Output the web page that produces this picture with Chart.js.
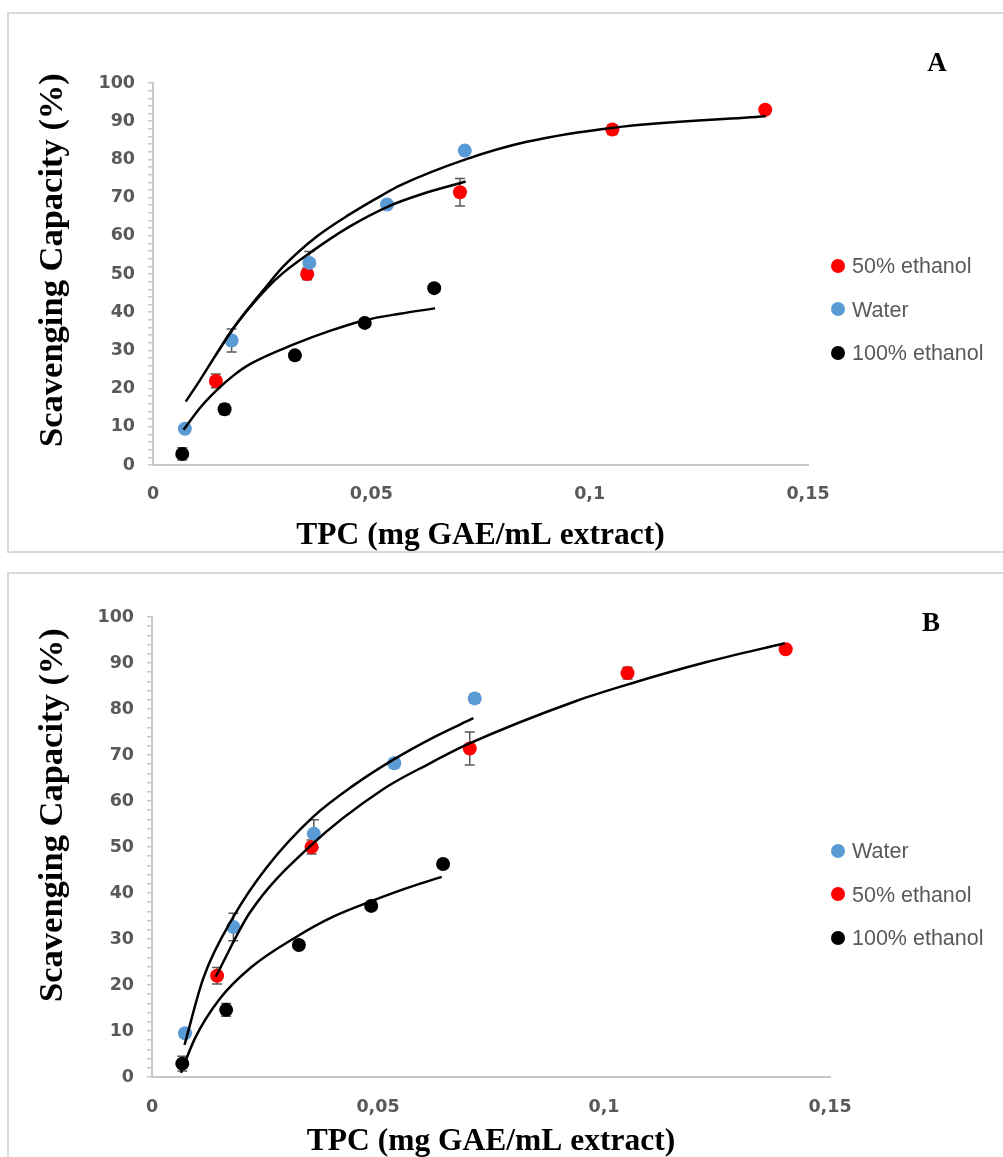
<!DOCTYPE html>
<html>
<head>
<meta charset="utf-8">
<title>Scavenging capacity vs TPC</title>
<script src="https://cdn.jsdelivr.net/npm/chart.js@4.4.1/dist/chart.umd.min.js"></script>
<style>
  html, body { margin: 0; padding: 0; background: #fff; }
  body { position: relative; width: 1003px; height: 1157px; overflow: hidden; }
  .frame { position: absolute; border: 2px solid #d9d9d9; box-sizing: border-box; }
  canvas { position: absolute; left: 0; }
  .ytitle {
    position: absolute; white-space: nowrap; color: #000;
    font: bold 34.5px 'Liberation Serif', 'Times New Roman', serif;
    transform: translate(-50%, -50%) rotate(-90deg);
  }
  .letter {
    position: absolute; color: #000;
    font: bold 27px 'Liberation Serif', 'Times New Roman', serif;
    transform: translate(-50%, -50%);
  }
  .legend-item {
    position: absolute; left: 831px; height: 26px; line-height: 26px;
    font: 21.5px 'Liberation Sans', Arial, sans-serif; color: #595959; white-space: nowrap;
    transform: translateY(-50%);
  }
  .legend-item i {
    display: inline-block; width: 14px; height: 14px; border-radius: 50%;
    vertical-align: middle; margin-right: 7px; margin-top: -3px;
  }
</style>
</head>
<body>
<div class="frame" style="left:7px; top:12px; width:1010px; height:541px;"></div>
<div class="frame" style="left:7px; top:572px; width:1010px; height:600px;"></div>

<canvas id="panelA" width="1003" height="560" style="top:0px;"></canvas>
<canvas id="panelB" width="1003" height="597" style="top:560px;"></canvas>

<div class="ytitle" style="left:50px; top:260px;">Scavenging Capacity (%)</div>
<div class="ytitle" style="left:50px; top:815px;">Scavenging Capacity (%)</div>
<div class="letter" style="left:937px; top:62px;">A</div>
<div class="letter" style="left:931px; top:622px;">B</div>

<script>
// Series names and marker colours
const seriesNames = ['Water', '50% ethanol', '100% ethanol'];
const seriesColors = ['#5b9bd5', '#ff0000', '#000000'];

// Measured points: TPC (mg GAE/mL extract), scavenging capacity (%), SD
const tpcWater = [0.0073, 0.0180, 0.0358, 0.0536, 0.0714];
const scWater  = [9.5, 32.6, 52.9, 68.2, 82.3];
const sdWater  = [0.8, 3.0, 3.0, 1.0, 1.0];

const tpcEth50 = [0.0144, 0.0353, 0.0703, 0.1052, 0.1402];
const scEth50  = [22.0, 50.0, 71.4, 87.8, 93.0];
const sdEth50  = [1.8, 1.5, 3.6, 1.3, 0.8];

const tpcEth100 = [0.0067, 0.0164, 0.0325, 0.0485, 0.0644];
const scEth100  = [2.9, 14.6, 28.7, 37.2, 46.3];
const sdEth100  = [1.6, 1.4, 0.8, 1.0, 0.8];

// Panel A trendlines
const fitAWaterX = [0.0075, 0.0108, 0.0146, 0.0184, 0.0222, 0.0260, 0.0298, 0.0360, 0.0450, 0.0537, 0.0618, 0.0716];
const fitAWaterY = [16.6, 22.3, 29.2, 35.8, 41.3, 46.2, 50.3, 55.6, 62.4, 67.6, 71.0, 74.2];
const fitAEth50X = [0.0145, 0.0184, 0.0222, 0.0260, 0.0298, 0.0375, 0.0450, 0.0527, 0.0566, 0.0716, 0.0856, 0.1055, 0.1403];
const fitAEth50Y = [29.0, 35.8, 41.5, 46.8, 51.9, 59.8, 65.6, 70.8, 73.2, 80.0, 84.6, 88.3, 91.3];
const fitAEth100X = [0.0070, 0.0108, 0.0146, 0.0184, 0.0222, 0.0325, 0.0405, 0.0485, 0.0565, 0.0646];
const fitAEth100Y = [9.2, 15.0, 19.6, 23.4, 26.4, 31.7, 35.1, 37.9, 39.6, 41.0];

// Panel B trendlines
const fitBWaterX = [0.0072, 0.0114, 0.0180, 0.0254, 0.0357, 0.0446, 0.0534, 0.0622, 0.0711];
const fitBWaterY = [7.0, 21.6, 34.8, 45.6, 56.6, 63.4, 69.0, 73.8, 78.0];
const fitBEth50X = [0.0141, 0.0217, 0.0350, 0.0512, 0.0615, 0.0700, 0.0940, 0.1058, 0.1227, 0.1400];
const fitBEth50Y = [21.8, 35.8, 50.2, 62.6, 68.2, 72.4, 81.8, 85.5, 90.2, 94.3];
const fitBEth100X = [0.0064, 0.0095, 0.0150, 0.0220, 0.0320, 0.0402, 0.0482, 0.0562, 0.0641];
const fitBEth100Y = [0.9, 8.4, 17.0, 23.9, 30.5, 34.9, 38.1, 41.0, 43.5];

// Axis settings
const xMin = 0, xMax = 0.15, xStep = 0.05;
const yMin = 0, yMax = 100, yStep = 2, yLabelStep = 10;
const xTitle = 'TPC (mg GAE/mL extract)';

const pts = (xs, ys) => xs.map((x, i) => ({ x, y: ys[i] }));

// Vertical SD bars with caps, drawn beneath the markers
const errorBars = {
  id: 'errorBars',
  beforeDatasetsDraw(chart) {
    const { ctx, scales: { x, y } } = chart;
    ctx.save();
    ctx.strokeStyle = '#595959';
    ctx.lineWidth = 1.5;
    chart.data.datasets.forEach(ds => {
      if (!ds.errors) return;
      ds.data.forEach((p, j) => {
        const e = ds.errors[j];
        const px = x.getPixelForValue(p.x);
        const top = y.getPixelForValue(p.y + e);
        const bot = y.getPixelForValue(p.y - e);
        ctx.beginPath();
        ctx.moveTo(px, top); ctx.lineTo(px, bot);
        ctx.moveTo(px - 5, top); ctx.lineTo(px + 5, top);
        ctx.moveTo(px - 5, bot); ctx.lineTo(px + 5, bot);
        ctx.stroke();
      });
    });
    ctx.restore();
  }
};

function pointSet(idx, xs, ys, sd) {
  return {
    label: seriesNames[idx],
    data: pts(xs, ys),
    errors: sd,
    showLine: false,
    pointRadius: 7,
    pointHoverRadius: 7,
    pointBackgroundColor: seriesColors[idx],
    pointBorderColor: seriesColors[idx],
    pointBorderWidth: 0,
    order: 2
  };
}

function fitSet(xs, ys) {
  return {
    data: pts(xs, ys),
    showLine: true,
    borderColor: '#000',
    borderWidth: 2.5,
    pointRadius: 0,
    fill: false,
    cubicInterpolationMode: 'monotone',
    order: 1
  };
}

const tickFont = { family: "'DejaVu Sans', sans-serif", size: 17.5, weight: 'bold' };

function makePanel(id, fits, area) {
  const datasets = [
    fitSet(fits[0][0], fits[0][1]),
    fitSet(fits[1][0], fits[1][1]),
    fitSet(fits[2][0], fits[2][1]),
    pointSet(0, tpcWater, scWater, sdWater),
    pointSet(1, tpcEth50, scEth50, sdEth50),
    pointSet(2, tpcEth100, scEth100, sdEth100)
  ];
  return new Chart(document.getElementById(id), {
    type: 'scatter',
    data: { datasets },
    plugins: [errorBars],
    options: {
      responsive: false,
      animation: false,
      events: [],
      layout: { padding: area.padding },
      plugins: { legend: { display: false }, tooltip: { enabled: false } },
      scales: {
        x: {
          type: 'linear', min: xMin, max: xMax,
          afterFit: s => { s.height = area.xHeight; },
          ticks: {
            stepSize: xStep, color: '#595959', font: tickFont, padding: area.xPad,
            callback: v => Number(v.toFixed(4)).toString().replace('.', ',')
          },
          grid: { display: true, drawOnChartArea: false, drawTicks: false, color: '#bfbfbf' },
          border: { display: true, color: '#c8c8c8', width: 2 },
          title: {
            display: true, text: xTitle, color: '#000',
            font: { family: "'Liberation Serif', 'Times New Roman', serif", size: 31.5, weight: 'bold' },
            padding: { top: 0, bottom: area.titlePad }
          }
        },
        y: {
          type: 'linear', min: yMin, max: yMax,
          afterFit: s => { s.width = area.yWidth; },
          ticks: {
            stepSize: yStep, autoSkip: false, color: '#595959', font: tickFont, padding: 13,
            callback: v => (v % yLabelStep === 0 ? String(v) : '')
          },
          grid: { display: true, drawOnChartArea: false, drawTicks: true, tickLength: 5, color: '#c8c8c8', lineWidth: 1.5 },
          border: { display: true, color: '#c8c8c8', width: 2 }
        }
      }
    }
  });
}

makePanel('panelA',
  [[fitAWaterX, fitAWaterY], [fitAEth50X, fitAEth50Y], [fitAEth100X, fitAEth100Y]],
  { padding: { top: 83, right: 195, left: 0, bottom: 0 }, yWidth: 153, xHeight: 95, xPad: 19, titlePad: 5 });

makePanel('panelB',
  [[fitBWaterX, fitBWaterY], [fitBEth50X, fitBEth50Y], [fitBEth100X, fitBEth100Y]],
  { padding: { top: 57, right: 173, left: 0, bottom: 0 }, yWidth: 152, xHeight: 80, xPad: 20, titlePad: -4 });

// Legends: panel A lists 50% ethanol first, panel B lists water first
const legendA = [1, 0, 2];
const legendB = [0, 1, 2];
const legendRowsA = 267, legendRowsB = 852, legendGap = 43.5;
function addLegend(order, firstRow) {
  order.forEach((idx, k) => {
    const el = document.createElement('div');
    el.className = 'legend-item';
    el.style.top = (firstRow + k * legendGap) + 'px';
    const dot = document.createElement('i');
    dot.style.background = seriesColors[idx];
    el.appendChild(dot);
    el.appendChild(document.createTextNode(seriesNames[idx]));
    document.body.appendChild(el);
  });
}
addLegend(legendA, legendRowsA);
addLegend(legendB, legendRowsB);
</script>
</body>
</html>
